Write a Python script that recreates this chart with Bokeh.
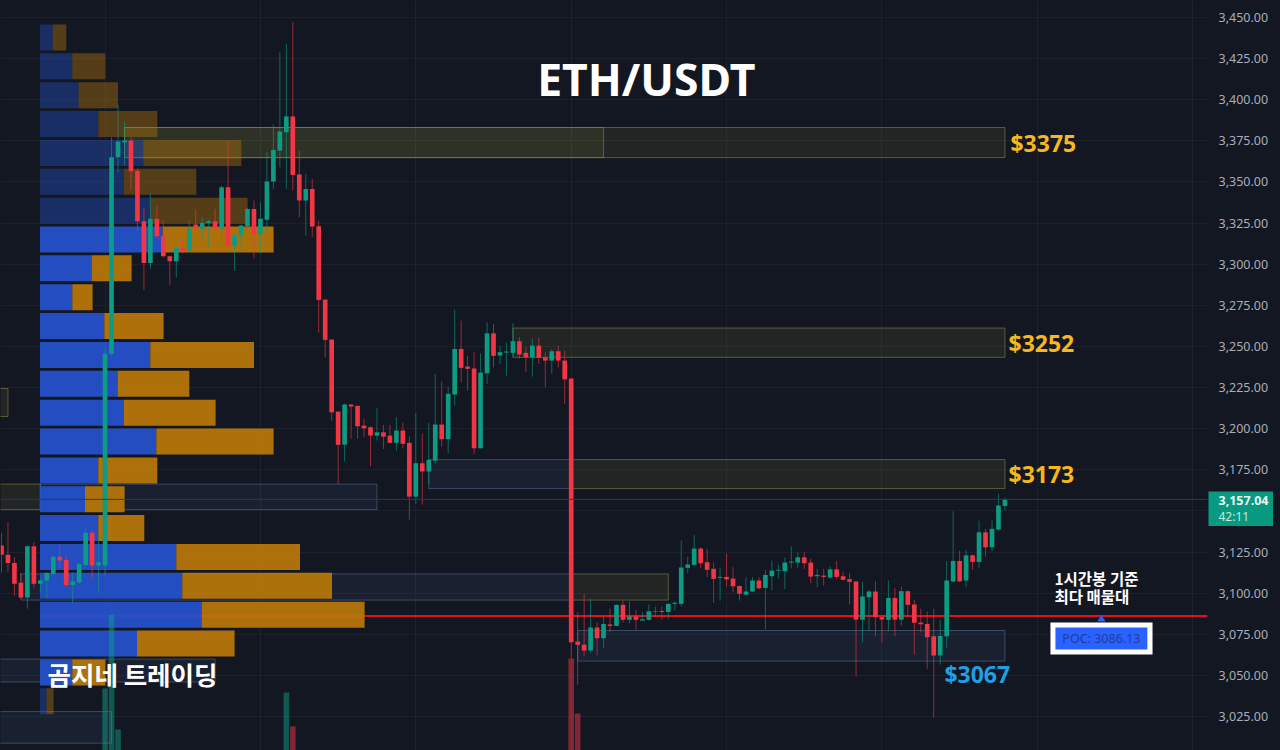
from bokeh.plotting import figure
from bokeh.models import (Range1d, LinearAxis, FixedTicker, Grid, Span,
                          ColumnDataSource, GlobalInlineStyleSheet, CustomJSTickFormatter)
from bokeh.core.properties import value
from bokeh.embed import file_html
from bokeh.resources import INLINE

BG = "#131722"
UP = "#0d9b83"
DOWN = "#f23645"

# ---------- candles ----------
opens = [3129.0,3123.3,3118.4,3106.3,3097.3,3128.5,3105.7,3107.7,3111.7,3122.2,
3120.2,3105.0,3106.6,3117.2,3136.7,3116.8,3116.8,3245.5,3365.0,3374.2,
3375.2,3356.9,3326.1,3300.8,3327.6,3317.0,3304.8,3301.8,3309.9,3308.3,
3324.1,3321.5,3325.0,3326.1,3321.5,3346.8,3311.3,3317.4,3323.1,3333.6,
3318.5,3327.1,3350.3,3369.1,3380.2,3389.8,3354.5,3338.7,3345.8,3323.1,
3278.5,3254.2,3210.4,3190.3,3214.7,3213.9,3201.9,3200.9,3195.8,3197.8,
3195.8,3191.4,3198.9,3191.4,3158.7,3179.0,3174.0,3180.6,3202.5,3193.6,
3220.8,3248.5,3237.8,3236.6,3188.1,3233.7,3258.0,3244.5,3246.3,3246.1,
3253.2,3246.1,3243.4,3250.5,3243.4,3241.4,3247.1,3241.4,3230.5,3070.6,
3068.7,3065.1,3079.1,3072.6,3081.0,3080.1,3092.9,3083.8,3085.8,3083.3,
3083.8,3088.6,3089.2,3088.6,3093.5,3093.5,3115.4,3117.2,3127.1,3118.8,
3114.8,3109.3,3109.9,3108.9,3104.4,3099.1,3101.0,3107.7,3103.2,3110.3,
3113.7,3113.3,3118.6,3118.6,3121.8,3118.6,3110.3,3110.7,3109.5,3114.5,
3110.3,3108.5,3107.1,3083.9,3097.5,3101.0,3085.4,3083.8,3097.1,3083.9,
3101.2,3093.1,3082.1,3081.3,3073.8,3062.1,3073.8,3107.1,3119.6,3107.7,
3123.0,3119.0,3137.0,3127.9,3138.7,3153.0]

highs = [3136.8,3143.1,3121.8,3112.5,3128.5,3131.0,3108.9,3112.7,3122.9,3129.4,
3122.9,3112.7,3118.8,3140.1,3138.1,3135.0,3250.5,3377.2,3396.9,3386.3,
3377.2,3358.2,3334.6,3342.8,3335.7,3326.5,3305.3,3311.3,3315.6,3326.5,
3333.6,3328.5,3327.2,3333.6,3347.8,3375.2,3318.6,3324.1,3334.4,3338.7,
3337.7,3368.1,3384.9,3428.9,3434.0,3447.1,3369.1,3354.9,3351.9,3326.5,
3278.5,3254.2,3210.4,3215.3,3214.7,3214.1,3206.0,3201.3,3212.4,3202.3,
3202.3,3207.0,3203.5,3195.2,3209.4,3196.9,3203.5,3233.3,3228.6,3225.6,
3272.4,3265.7,3244.5,3246.5,3245.9,3264.7,3263.7,3250.5,3252.5,3264.1,
3255.6,3249.5,3254.6,3255.6,3246.5,3248.5,3250.5,3247.5,3230.5,3088.4,
3099.6,3096.5,3082.3,3085.8,3090.5,3093.1,3095.5,3094.9,3089.8,3088.4,
3093.1,3091.9,3091.9,3093.9,3095.1,3132.0,3122.2,3135.4,3127.9,3126.9,
3118.8,3115.4,3124.0,3115.8,3104.4,3109.7,3109.7,3109.7,3114.2,3119.8,
3117.4,3121.8,3128.5,3124.9,3124.9,3120.9,3114.8,3114.8,3116.2,3119.4,
3113.1,3112.1,3107.1,3107.1,3102.0,3107.2,3086.8,3107.7,3103.2,3104.0,
3101.6,3096.0,3090.5,3088.8,3090.5,3083.8,3119.4,3149.8,3125.9,3126.3,
3123.5,3144.1,3139.1,3144.1,3160.4,3158.0]

lows = [3112.5,3112.7,3098.5,3096.7,3090.6,3102.8,3100.4,3096.7,3110.7,3115.1,
3103.6,3093.5,3105.7,3115.8,3108.7,3099.8,3110.7,3244.5,3355.9,3360.0,
3344.8,3320.5,3284.4,3297.2,3315.6,3304.2,3287.4,3292.1,3306.5,3307.3,
3321.1,3314.4,3310.3,3320.5,3314.4,3310.3,3296.1,3308.3,3321.5,3303.4,
3306.5,3319.4,3345.8,3359.0,3345.8,3344.8,3328.5,3317.4,3316.4,3258.4,
3243.4,3204.9,3166.4,3180.2,3193.8,3193.8,3194.8,3177.2,3192.8,3187.7,
3191.0,3186.7,3188.1,3144.7,3154.3,3153.9,3166.4,3178.8,3189.1,3185.1,
3214.1,3228.2,3223.2,3184.7,3188.1,3227.3,3237.3,3239.4,3232.3,3243.4,
3242.6,3234.3,3231.7,3239.4,3225.2,3233.3,3237.3,3215.1,3060.8,3044.4,
3061.6,3063.5,3062.1,3066.5,3076.2,3080.1,3082.3,3081.7,3077.7,3083.3,
3083.3,3085.8,3083.8,3084.4,3089.4,3091.9,3112.1,3116.8,3115.1,3109.7,
3094.1,3095.5,3104.0,3100.5,3095.5,3098.5,3100.5,3102.2,3077.9,3101.6,
3109.1,3102.6,3115.1,3115.4,3114.8,3106.0,3103.6,3104.6,3108.7,3108.7,
3107.7,3093.1,3049.3,3070.2,3076.8,3073.8,3069.8,3076.8,3073.8,3080.3,
3085.4,3062.7,3076.2,3054.0,3024.2,3056.6,3066.5,3106.6,3106.6,3103.6,
3114.2,3115.1,3122.2,3125.5,3138.1,3150.2]

closes = [3123.3,3118.4,3105.8,3097.3,3128.5,3105.7,3107.7,3112.3,3122.2,3119.8,
3105.0,3107.1,3117.8,3136.7,3116.8,3118.8,3245.5,3365.0,3374.6,3375.2,
3356.5,3326.1,3300.8,3327.6,3317.0,3304.8,3301.8,3309.9,3307.9,3321.5,
3321.7,3325.1,3326.1,3321.5,3346.8,3311.3,3317.4,3323.5,3333.6,3318.5,
3327.6,3350.3,3369.5,3380.7,3389.8,3354.3,3338.7,3345.8,3322.9,3278.3,
3254.0,3210.0,3190.2,3214.7,3213.5,3201.5,3200.3,3195.8,3197.8,3195.2,
3191.4,3198.9,3190.8,3158.7,3179.0,3174.0,3181.0,3202.5,3193.6,3221.2,
3248.5,3237.0,3236.4,3188.1,3234.1,3258.0,3244.3,3246.5,3246.9,3253.2,
3245.1,3243.4,3250.5,3243.1,3241.4,3247.1,3241.4,3230.0,3070.2,3068.6,
3065.1,3079.1,3072.6,3081.3,3080.1,3092.9,3083.8,3085.8,3083.8,3084.1,
3089.0,3089.0,3088.6,3093.5,3094.1,3115.6,3117.4,3127.1,3118.2,3114.2,
3108.7,3109.9,3108.4,3104.2,3099.6,3101.0,3107.7,3103.0,3111.1,3113.7,
3114.2,3118.6,3119.2,3121.8,3118.2,3110.1,3111.1,3109.9,3114.5,3109.9,
3108.1,3106.9,3083.9,3098.0,3101.0,3085.4,3084.0,3097.1,3083.9,3101.2,
3092.9,3082.0,3081.1,3073.2,3062.1,3074.0,3107.7,3119.6,3107.2,3123.0,
3119.0,3137.0,3127.9,3139.1,3153.3,3157.04]

# ---------- volume profile ----------
row_prices = [3437.8,3420.3,3402.7,3385.2,3367.6,3350.1,3332.5,3315.0,3297.5,3279.9,3262.4,3244.8,
              3227.3,3209.7,3192.2,3174.6,3157.1,3139.6,3122.0,3104.5,3086.9,3069.4,3051.8,3034.3]
buy_vol = [12.7,32.3,38.6,58.3,103.3,84,110.3,122.6,51.6,32.3,64.3,110.3,
           77.6,84,116.3,58.3,45,58.3,136.3,142.3,161.6,97,32.3,6.6]
sell_vol = [13.6,33,39.4,59,98,72.3,97.3,111,40,20.3,59.3,103.7,
            71.7,91.6,117.3,59,39.6,46,123.7,149.7,163,97.6,33,7]
value_area = [0,0,0,0,0,0,0,1,1,1,1,1,1,1,1,1,1,1,1,1,1,1,1,0]

# ---------- volume bars (only the ones that reach into view) ----------
vol_index = [16, 17, 18, 44, 45, 88, 89]
vol_value = [62, 136, 21, 58, 24, 92, 37]

# ---------- zones: start candle, end candle, high price, low price ----------
yellow_start = [19, 19, 79, 88, -5, -5, 88]
yellow_end =   [155, 93, 155, 155, 6, 1, 103]
yellow_high =  [3383.1, 3383.1, 3261.2, 3181.2, 3166.3, 3224.4, 3111.7]
yellow_low =   [3364.8, 3364.8, 3243.4, 3163.6, 3150.8, 3207.4, 3095.8]

blue_start = [66, 6, 3, 89, -5, -5]
blue_end =   [88, 58, 88, 155, 33, 17]
blue_high =  [3181.2, 3166.3, 3111.7, 3077.3, 3059.9, 3028.0]
blue_low =   [3163.6, 3150.8, 3095.8, 3058.7, 3046.0, 3008.8]

poc_price = 3086.13
last_price = 3157.04
price_ticks = [3025, 3050, 3075, 3100, 3125, 3175, 3200, 3225, 3250, 3275, 3300, 3325,
               3350, 3375, 3400, 3425, 3450]
grid_prices = [3025, 3050, 3075, 3100, 3125, 3150, 3175, 3200, 3225, 3250, 3275, 3300, 3325,
               3350, 3375, 3400, 3425, 3450]
grid_candles = [16, 40, 64, 88, 112, 136, 160, 184]

# ---------- figure ----------
p = figure(frame_width=1207, frame_height=750, output_backend="svg", toolbar_location=None,
           x_range=Range1d(-0.154, 186.29), y_range=Range1d(3004.35, 3460.34),
           background_fill_color=BG, border_fill_color=BG, outline_line_color=None,
           min_border=0, x_axis_location=None, y_axis_location=None)
p.stylesheets = [GlobalInlineStyleSheet(css="html,body{background:#131722}")]
p.xgrid.visible = False
p.ygrid.visible = False
p.extra_x_ranges["vp"] = Range1d(-39.5, 1167.5)
p.extra_y_ranges["vol"] = Range1d(0, 750)

yax = LinearAxis(ticker=FixedTicker(ticks=price_ticks))
yax.formatter = CustomJSTickFormatter(code="return tick.toLocaleString('en-US',{minimumFractionDigits:2,maximumFractionDigits:2})")
yax.axis_line_color = None
yax.major_tick_line_color = None
yax.minor_tick_line_color = None
yax.major_tick_out = 0
yax.major_label_standoff = 11
yax.major_label_text_color = "#a9adb8"
yax.major_label_text_font = "Noto Sans"
yax.major_label_text_font_size = "12.5px"
p.add_layout(yax, "right")

GRID = "#1c212d"
p.add_layout(Grid(dimension=1, ticker=FixedTicker(ticks=grid_prices), grid_line_color=GRID, grid_line_width=1))
p.add_layout(Grid(dimension=0, ticker=FixedTicker(ticks=grid_candles), grid_line_color=GRID, grid_line_width=1))
p.add_layout(Span(location=last_price, dimension="width", line_color="#2f3a49", line_width=1))

# zones
p.quad(left=yellow_start, right=yellow_end, top=yellow_high, bottom=yellow_low,
       fill_color="#e6e04a", fill_alpha=0.07, line_color="#8f8a4a", line_alpha=0.55, line_width=1)
p.quad(left=blue_start, right=blue_end, top=blue_high, bottom=blue_low,
       fill_color="#5a86c8", fill_alpha=0.09, line_color="#5f7a9c", line_alpha=0.5, line_width=1)

# POC line
p.segment(x0=[6], x1=[186.3], y0=[poc_price], y1=[poc_price], line_color="#e3101c", line_width=2)

# volume profile
stack = [b + s for b, s in zip(buy_vol, sell_vol)]
prof = ColumnDataSource(dict(y=row_prices, buy=buy_vol, total=stack, zero=[0] * len(buy_vol),
                             a=[0.93 if v else 0.40 for v in value_area]))
p.hbar(y="y", left="zero", right="buy", height=15.8, source=prof, x_range_name="vp",
       fill_color="#2552cc", fill_alpha="a", line_color=None)
p.hbar(y="y", left="buy", right="total", height=15.8, source=prof, x_range_name="vp",
       fill_color="#b9770a", fill_alpha="a", line_color=None)

# candles
idx = list(range(len(opens)))
colors = [UP if c >= o else DOWN for o, c in zip(opens, closes)]
src = ColumnDataSource(dict(x=idx, o=opens, h=highs, l=lows, c=closes, color=colors,
                            top=[max(o, c) for o, c in zip(opens, closes)],
                            bot=[min(o, c) for o, c in zip(opens, closes)]))
p.segment(x0="x", x1="x", y0="l", y1="h", source=src, line_color="color", line_alpha=0.6, line_width=1)
p.vbar(x="x", top="top", bottom="bot", width=0.72, source=src, fill_color="color", line_color=None)

# volume bars
vcol = [UP if closes[i] >= opens[i] else DOWN for i in vol_index]
p.vbar(x=vol_index, top=vol_value, bottom=[0] * len(vol_index), width=0.86, y_range_name="vol",
       fill_color=vcol, fill_alpha=0.5, line_color=None)

# POC label
p.quad(left=[162.03], right=[177.8], top=[3082.1], bottom=[3062.7], fill_color="#ffffff", line_color=None)
p.quad(left=[162.8], right=[177.0], top=[3079.1], bottom=[3065.7], fill_color="#2962ff", line_color=None)
p.scatter(x=[169.9], y=[3084.2], marker="triangle", size=8, fill_color="#2962ff", line_color=None)
p.text(x=[169.9], y=[3072.4], text=["POC: 3086.13"], text_font=value("Noto Sans"), text_font_size="12.5px",
       text_color="#1f3d9c", text_align="center", text_baseline="middle")

# texts
p.text(x=[99.6], y=[3412.8], text=["ETH/USDT"], text_font=value("Noto Sans"), text_font_size="44.5px",
       text_font_style="bold", text_color="#ffffff", text_align="center", text_baseline="middle")
p.text(x=[155.85, 155.55, 155.55], y=[3373.6, 3252.2, 3172.7], text=["$3375", "$3252", "$3173"],
       text_font=value("Noto Sans"), text_font_size="23px", text_font_style="bold",
       text_color="#f7b71d", text_align="left", text_baseline="middle")
p.text(x=[145.65], y=[3050.6], text=["$3067"], text_font=value("Noto Sans"), text_font_size="23px",
       text_font_style="bold", text_color="#1f9fe4", text_align="left", text_baseline="middle")
p.text(x=[7.1], y=[3051], text=["곰지네 트레이딩"], text_font=value("Noto Sans CJK KR"), text_font_size="25.5px",
       text_font_style="bold", text_color="#ffffff", text_align="left", text_baseline="middle")
p.text(x=[162.65, 162.65], y=[3109.5, 3098.5], text=["1시간봉 기준", "최다 매물대"],
       text_font=value("Noto Sans CJK KR"), text_font_size="15.5px", text_font_style="bold",
       text_color="#ffffff", text_align="left", text_baseline="middle")

# last price tag: a small figure laid over the price scale
tag = figure(width=65, height=35, output_backend="svg", toolbar_location=None,
             x_range=Range1d(0, 65), y_range=Range1d(0, 35),
             background_fill_color="#089981", border_fill_color="#089981", outline_line_color=None,
             min_border=0, x_axis_location=None, y_axis_location=None,
             styles={"position": "absolute", "left": "1208px", "top": "491px", "z-index": "10"})
tag.xgrid.visible = False
tag.ygrid.visible = False
tag.text(x=[10], y=[26.5], text=["3,157.04"], text_font=value("Noto Sans"), text_font_size="12.5px",
         text_font_style="bold", text_color="#eaf7f4", text_align="left", text_baseline="middle")
tag.text(x=[10], y=[10], text=["42:11"], text_font=value("Noto Sans"), text_font_size="12px",
         text_color="#c4e8e0", text_align="left", text_baseline="middle")

open("out.html", "w").write(file_html([p, tag], INLINE))
